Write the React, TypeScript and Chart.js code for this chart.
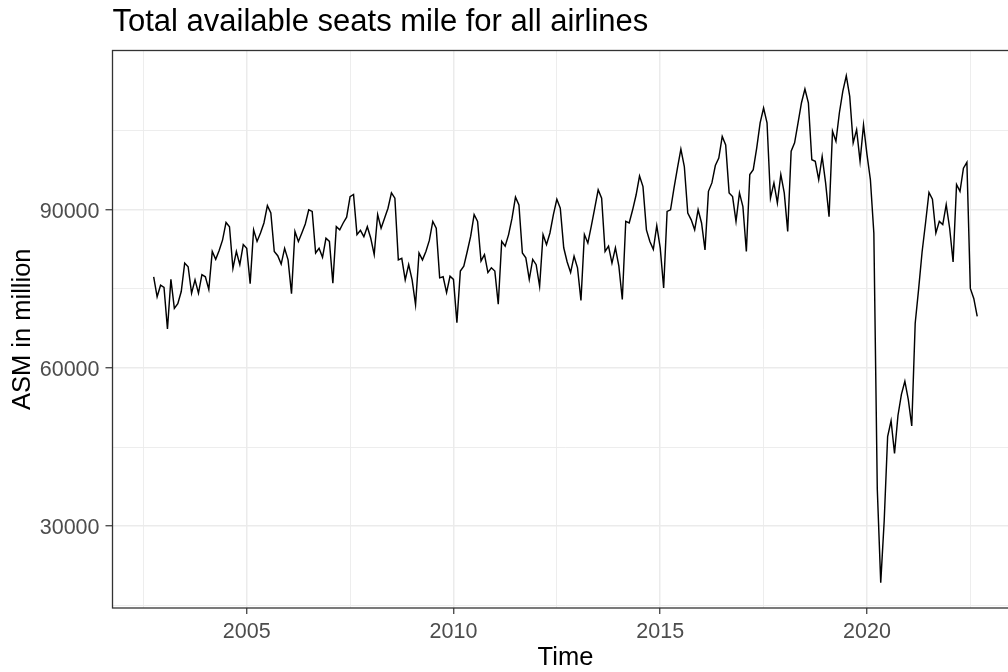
import { useEffect, useRef } from "react";
import { Chart, registerables } from "chart.js";

Chart.register(...registerables);

// Monthly available seat miles (millions), all airlines, Oct 2002 – Sep 2022
const FIRST_YEAR = 2002;
const FIRST_MONTH = 10; // series starts in October

const asm2002 = [77300, 73500, 75700];
const asm2003 = [75300, 67400, 76800, 71300, 72200, 74500, 79900, 79200, 74200, 76700, 74200, 77700];
const asm2004 = [77300, 74900, 82100, 80600, 82300, 84300, 87600, 86800, 78900, 82100, 79600, 83400];
const asm2005 = [82700, 76000, 86200, 84000, 85600, 87500, 90800, 89400, 82100, 81300, 79700, 82700];
const asm2006 = [80500, 74100, 85900, 84000, 85600, 87300, 90000, 89700, 81800, 82700, 81000, 84600];
const asm2007 = [84000, 76100, 86800, 86200, 87500, 88600, 92500, 92900, 85300, 86100, 84900, 86800];
const asm2008 = [84600, 81500, 89100, 86500, 88400, 90300, 93200, 92200, 80500, 80800, 76700, 79600];
const asm2009 = [76700, 72000, 81800, 80500, 82100, 84200, 87800, 86500, 77100, 77300, 74300, 77400];
const asm2010 = [76800, 68600, 78400, 79300, 82100, 85000, 89100, 87800, 80300, 81500, 78100, 79000];
const asm2011 = [78400, 72100, 84000, 83100, 85300, 88400, 92400, 90900, 81800, 80900, 76800, 80600];
const asm2012 = [79600, 75500, 85300, 83400, 85600, 89100, 92000, 90300, 82800, 80100, 78100, 81200];
const asm2013 = [79000, 72800, 85300, 83700, 86900, 90300, 93800, 92200, 82100, 83100, 79900, 82800];
const asm2014 = [79300, 73000, 87800, 87500, 90000, 92800, 96400, 94400, 86200, 84000, 82500, 87000];
const asm2015 = [82800, 75200, 89700, 90000, 94100, 97900, 101500, 98200, 89400, 88100, 86200, 90000];
const asm2016 = [87500, 82400, 93500, 95100, 98400, 99800, 103900, 102300, 93200, 92500, 87800, 93200];
const asm2017 = [90600, 82100, 96700, 97600, 101700, 106500, 109300, 106500, 92200, 95100, 91300, 96700];
const asm2018 = [93200, 85900, 101100, 102700, 106500, 110300, 112900, 110300, 99500, 99200, 95700, 100100];
const asm2019 = [95100, 88700, 104900, 103000, 108400, 112500, 115400, 111500, 102700, 105200, 99200, 106100];
const asm2020 = [100500, 95700, 85600, 37000, 19300, 31000, 47000, 50000, 43800, 51000, 55000, 57500];
const asm2021 = [54000, 49000, 68500, 75000, 82000, 87500, 93300, 92000, 85600, 87800, 87200, 91000];
const asm2022 = [86500, 80100, 94800, 93500, 97900, 99000, 75100, 73200, 69800];

const asmByYear = [
  asm2002, asm2003, asm2004, asm2005, asm2006, asm2007, asm2008,
  asm2009, asm2010, asm2011, asm2012, asm2013, asm2014, asm2015,
  asm2016, asm2017, asm2018, asm2019, asm2020, asm2021, asm2022,
];

// Axis breaks
const X_MAJOR = [2005, 2010, 2015, 2020];
const X_MINOR = [2002.5, 2007.5, 2012.5, 2017.5, 2022.5];
const Y_MAJOR = [30000, 60000, 90000];
const Y_MINOR = [15000, 45000, 75000, 105000];

const TITLE = "Total available seats mile for all airlines";
const X_TITLE = "Time";
const Y_TITLE = "ASM in million";

const FONT = "'Liberation Sans', Arial, Helvetica, sans-serif";
const CANVAS_W = 1030;
const CANVAS_H = 672;
const PANEL_LEFT = 112.5;
const PANEL_BOTTOM = 608;
const PANEL_RIGHT = 1018.4;

const points = asmByYear.flat().map((v, i) => ({
  x: FIRST_YEAR + (FIRST_MONTH - 1 + i) / 12,
  y: v,
}));

// 5% padding on each side of the data range
function expanded(values: number[]) {
  const lo = Math.min(...values);
  const hi = Math.max(...values);
  const pad = (hi - lo) * 0.05;
  return [lo - pad, hi + pad];
}
const [xMin, xMax] = expanded(points.map((p) => p.x));
const [yMin, yMax] = expanded(points.map((p) => p.y));

const panelFrame = {
  id: "panelFrame",
  afterDatasetsDraw(chart: any) {
    const { ctx, chartArea } = chart;
    const { left, top, right, bottom } = chartArea;
    ctx.save();
    ctx.strokeStyle = "#333333";
    ctx.lineWidth = 1.3;
    ctx.strokeRect(left, top, right - left, bottom - top);
    ctx.restore();
  },
};

function breakTicks(minor: number[], major: number[]) {
  return [...minor, ...major].sort((a, b) => a - b).map((value) => ({ value }));
}

export default function App() {
  const canvasRef = useRef<HTMLCanvasElement | null>(null);

  useEffect(() => {
    const canvas = canvasRef.current;
    if (!canvas) return;
    const isMajorX = (v: number) => X_MAJOR.includes(v);
    const isMajorY = (v: number) => Y_MAJOR.includes(v);

    const chart = new Chart(canvas, {
      type: "line",
      data: {
        datasets: [
          {
            data: points,
            borderColor: "#000000",
            borderWidth: 1.45,
            pointRadius: 0,
            tension: 0,
            fill: false,
          },
        ],
      },
      options: {
        responsive: false,
        animation: false,
        devicePixelRatio: 1,
        layout: {
          padding: { left: 0, top: 0, right: CANVAS_W - PANEL_RIGHT, bottom: 0 },
        },
        plugins: {
          legend: { display: false },
          tooltip: { enabled: false },
          title: {
            display: true,
            text: TITLE,
            align: "start",
            fullSize: false,
            color: "#000000",
            font: { family: FONT, size: 31, weight: "normal", lineHeight: 1.2 },
            padding: { top: 4.2, bottom: 9.1 },
          },
        },
        scales: {
          x: {
            type: "linear",
            position: "bottom",
            min: xMin,
            max: xMax,
            afterBuildTicks: (scale: any) => {
              scale.ticks = breakTicks(X_MINOR, X_MAJOR);
            },
            afterFit: (scale: any) => {
              scale.height = CANVAS_H - PANEL_BOTTOM;
            },
            ticks: {
              autoSkip: false,
              maxRotation: 0,
              minRotation: 0,
              padding: 5.5,
              color: "#4D4D4D",
              font: { family: FONT, size: 21.5 },
              callback: (v: any) => (isMajorX(Number(v)) ? String(v) : ""),
            },
            grid: {
              color: "#EBEBEB",
              lineWidth: (ctx: any) => (ctx.tick && isMajorX(ctx.tick.value) ? 1.5 : 0.9),
              drawTicks: true,
              tickLength: 6,
              tickWidth: 1.2,
              tickColor: (ctx: any) =>
                ctx.tick && isMajorX(ctx.tick.value) ? "#333333" : "rgba(0,0,0,0)",
            },
            border: { display: false },
            title: {
              display: true,
              text: X_TITLE,
              color: "#000000",
              font: { family: FONT, size: 25.5, lineHeight: 1 },
              padding: { top: 0, bottom: 1.35 },
            },
          },
          y: {
            type: "linear",
            min: yMin,
            max: yMax,
            afterBuildTicks: (scale: any) => {
              scale.ticks = breakTicks(Y_MINOR, Y_MAJOR);
            },
            afterFit: (scale: any) => {
              scale.width = PANEL_LEFT;
            },
            ticks: {
              autoSkip: false,
              padding: 6,
              labelOffset: 2,
              color: "#4D4D4D",
              font: { family: FONT, size: 21.5 },
              callback: (v: any) => (isMajorY(Number(v)) ? String(v) : ""),
            },
            grid: {
              color: "#EBEBEB",
              lineWidth: (ctx: any) => (ctx.tick && isMajorY(ctx.tick.value) ? 1.5 : 0.9),
              drawTicks: true,
              tickLength: 7,
              tickWidth: 1.2,
              tickColor: (ctx: any) =>
                ctx.tick && isMajorY(ctx.tick.value) ? "#333333" : "rgba(0,0,0,0)",
            },
            border: { display: false },
            title: {
              display: true,
              text: Y_TITLE,
              color: "#000000",
              font: { family: FONT, size: 25.5, lineHeight: 1.2 },
              padding: { top: 7.6, bottom: 0 },
            },
          },
        },
      },
      plugins: [panelFrame],
    } as any);

    return () => chart.destroy();
  }, []);

  return (
    <div
      style={{
        position: "fixed",
        left: 0,
        top: 0,
        width: 1008,
        height: 672,
        overflow: "hidden",
        background: "#ffffff",
      }}
    >
      <canvas
        ref={canvasRef}
        width={CANVAS_W}
        height={CANVAS_H}
        style={{ display: "block", width: CANVAS_W, height: CANVAS_H }}
      />
    </div>
  );
}
